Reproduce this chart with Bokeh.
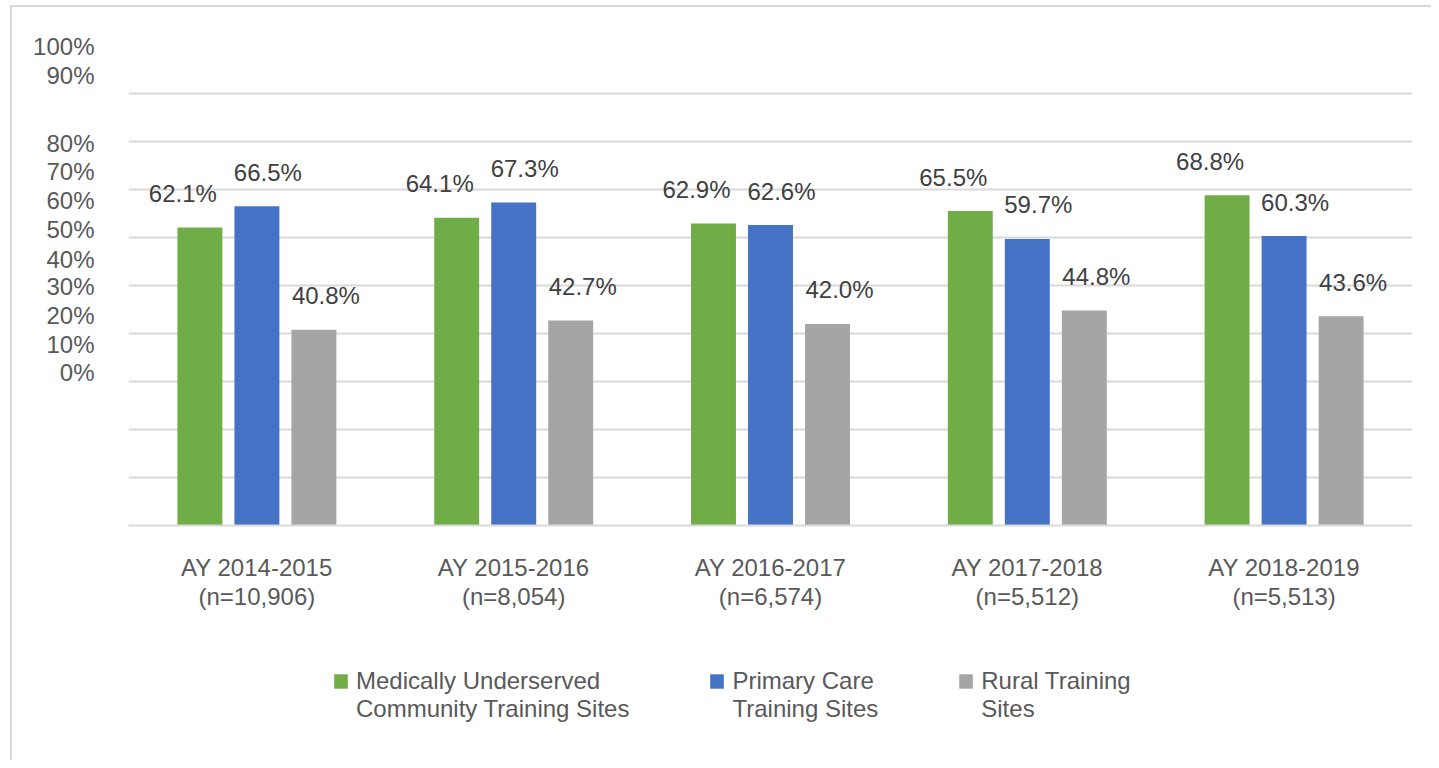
from bokeh.plotting import figure
from bokeh.layouts import column
from bokeh.models import (ColumnDataSource, FactorRange, Range1d, FixedTicker, LinearAxis,
                          CustomJSTickFormatter, Legend, LegendItem)
from bokeh.transform import dodge
from bokeh.core.properties import value
from bokeh.embed import file_html
from bokeh.resources import INLINE

# ---------------- data ----------------
categories = ["AY 2014-2015\n(n=10,906)", "AY 2015-2016\n(n=8,054)", "AY 2016-2017\n(n=6,574)",
              "AY 2017-2018\n(n=5,512)", "AY 2018-2019\n(n=5,513)"]
underserved = [62.1, 64.1, 62.9, 65.5, 68.8]
primary_care = [66.5, 67.3, 62.6, 59.7, 60.3]
rural = [40.8, 42.7, 42.0, 44.8, 43.6]
series_names = ["Medically Underserved\nCommunity Training Sites", "Primary Care\nTraining Sites",
                "Rural Training\nSites"]
grid_values = [0, 10, 20, 30, 40, 50, 60, 70, 80, 90, 100]
ytick_labels = ["0%", "10%", "20%", "30%", "40%", "50%", "60%", "70%", "80%", "90%", "100%"]
# where the reference shows its tick labels (in axis units)
ytick_label_pos = [31.8, 37.7, 43.8, 49.8, 55.4, 61.7, 67.7, 73.75, 79.65, 93.75, 99.8]

colors = ["#70AD47", "#4472C4", "#A5A5A5"]
FONT = "Liberation Sans"

src = ColumnDataSource(dict(
    cat=categories, u=underserved, p=primary_care, r=rural,
    ut=[f"{v:.1f}%" for v in underserved],
    pt=[f"{v:.1f}%" for v in primary_care],
    rt=[f"{v:.1f}%" for v in rural],
))

p = figure(x_range=FactorRange(*categories, range_padding=0), y_range=Range1d(0, 100),
           width=1419, height=645, output_backend="svg", toolbar_location=None,
           min_border_left=116, min_border_right=19, min_border_top=38, min_border_bottom=127)
p.outline_line_color = None
p.background_fill_color = "white"
p.border_fill_color = "white"

offs = [-0.222, 0.0, 0.222]
fields = ["u", "p", "r"]
tfields = ["ut", "pt", "rt"]
label_dx = [-17, 11, 12]
for off, f, c in zip(offs, fields, colors):
    p.vbar(x=dodge("cat", off, range=p.x_range), top=f, bottom=0, width=0.175,
           source=src, fill_color=c, line_color=None)
for off, f, tf, dx in zip(offs, fields, tfields, label_dx):
    p.text(x=dodge("cat", off, range=p.x_range), y=f, text=tf, source=src,
           x_offset=dx, y_offset=-34, text_align="center", text_baseline="middle",
           text_font=value(FONT), text_font_size="24px", text_color="#404040")

# grid
p.xgrid.visible = False
p.ygrid.ticker = FixedTicker(ticks=grid_values)
p.ygrid.grid_line_color = "#d9d9d9"
p.ygrid.grid_line_width = 2

# default y axis hidden; labels axis placed as in reference
p.yaxis.visible = False
lab_axis = LinearAxis(ticker=FixedTicker(ticks=ytick_label_pos),
                      formatter=CustomJSTickFormatter(args=dict(labels=ytick_labels),
                                                      code="return labels[index];"))
lab_axis.axis_line_color = None
lab_axis.major_tick_line_color = None
lab_axis.minor_tick_line_color = None
lab_axis.major_label_standoff = 28
lab_axis.major_label_text_font = FONT
lab_axis.major_label_text_font_size = "24px"
lab_axis.major_label_text_color = "#595959"
p.add_layout(lab_axis, "left")

# x axis
xa = p.xaxis[0]
xa.axis_line_color = "#d9d9d9"
xa.axis_line_width = 2
xa.major_tick_line_color = None
xa.minor_tick_line_color = None
xa.major_label_standoff = 22
xa.major_label_text_font = FONT
xa.major_label_text_font_size = "24px"
xa.major_label_text_line_height = 1.08
xa.major_label_text_color = "#595959"
xa.major_label_orientation = "horizontal"

# ---------------- legend strip ----------------
pl = figure(width=1419, height=108, output_backend="svg", toolbar_location=None,
            x_range=FactorRange(*categories), y_range=Range1d(1000, 1001),
            min_border=0, x_axis_location=None, y_axis_location=None)
pl.outline_line_color = None
pl.grid.visible = False
leg_renderers = []
for off, f, c in zip(offs, fields, colors):
    r = pl.vbar(x=dodge("cat", off, range=pl.x_range), top=f, bottom=f, width=0.175,
                source=src, fill_color=c, line_color=None)
    leg_renderers.append(r)

# leading blank line keeps each swatch level with the first line of its label
legend = Legend(items=[LegendItem(label="\n" + n, renderers=[r])
                       for n, r in zip(series_names, leg_renderers)],
                orientation="horizontal", location=(204, 37))
legend.margin = 0
legend.padding = 0
legend.spacing = 79
legend.label_standoff = 7
legend.glyph_width = 17
legend.glyph_height = 18
legend.border_line_color = None
legend.background_fill_alpha = 0
legend.label_text_font = FONT
legend.label_text_font_size = "24px"
legend.label_text_line_height = 1.0
legend.label_text_color = "#595959"
pl.add_layout(legend, "center")

inner = column(p, pl, spacing=0)
inner.styles = {"border-left": "2px solid #d9d9d9", "border-top": "2px solid #d9d9d9",
                "margin-left": "10px", "margin-top": "5px"}
layout = column(inner)

open("out.html", "w").write(file_html(layout, INLINE))
